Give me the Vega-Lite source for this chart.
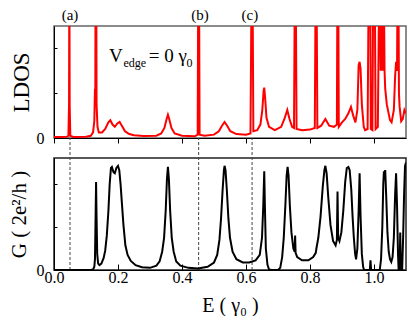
{
  "$schema": "https://vega.github.io/schema/vega-lite/v6.json",
  "background": "white",
  "padding": {"left": 7, "top": 7, "right": 0, "bottom": 0},
  "spacing": 20,
  "bounds": "flush",
  "config": {
    "font": "Liberation Serif",
    "view": {"stroke": "#666", "strokeWidth": 1.5},
    "axis": {"domainColor": "#000", "tickColor": "#000", "labelColor": "#000", "titleColor": "#000", "labelFont": "Liberation Serif", "titleFont": "Liberation Serif", "titleFontWeight": "normal", "grid": false, "domainWidth": 1, "tickWidth": 1}
  },
  "datasets": {
    "ldos": [
      {"E": 0.0, "L": 0.008}, {"E": 0.04, "L": 0.01}, {"E": 0.045, "L": 0.02}, {"E": 0.047, "L": 0.3}, {"E": 0.048, "L": 1.6}, {"E": 0.049, "L": 0.3}, {"E": 0.051, "L": 0.02}, {"E": 0.06, "L": 0.01},
      {"E": 0.1, "L": 0.012}, {"E": 0.115, "L": 0.02}, {"E": 0.122, "L": 0.05}, {"E": 0.126, "L": 0.15}, {"E": 0.128, "L": 0.44}, {"E": 0.129, "L": 0.3}, {"E": 0.130, "L": 1.6}, {"E": 0.132, "L": 1.6}, {"E": 0.133, "L": 0.3}, {"E": 0.136, "L": 0.1},
      {"E": 0.14, "L": 0.05}, {"E": 0.15, "L": 0.05}, {"E": 0.16, "L": 0.08}, {"E": 0.17, "L": 0.14}, {"E": 0.176, "L": 0.158}, {"E": 0.183, "L": 0.12}, {"E": 0.19, "L": 0.1}, {"E": 0.198, "L": 0.13}, {"E": 0.205, "L": 0.143}, {"E": 0.212, "L": 0.11}, {"E": 0.222, "L": 0.06}, {"E": 0.235, "L": 0.035}, {"E": 0.25, "L": 0.025}, {"E": 0.28, "L": 0.018},
      {"E": 0.32, "L": 0.02}, {"E": 0.335, "L": 0.04}, {"E": 0.345, "L": 0.09}, {"E": 0.352, "L": 0.17}, {"E": 0.356, "L": 0.208}, {"E": 0.36, "L": 0.17}, {"E": 0.367, "L": 0.09}, {"E": 0.377, "L": 0.04}, {"E": 0.4, "L": 0.02}, {"E": 0.44, "L": 0.015},
      {"E": 0.449, "L": 0.03}, {"E": 0.451, "L": 1.6}, {"E": 0.453, "L": 1.6}, {"E": 0.455, "L": 0.03}, {"E": 0.47, "L": 0.02}, {"E": 0.5, "L": 0.03}, {"E": 0.515, "L": 0.06}, {"E": 0.525, "L": 0.11}, {"E": 0.533, "L": 0.143}, {"E": 0.541, "L": 0.11}, {"E": 0.551, "L": 0.06}, {"E": 0.57, "L": 0.035}, {"E": 0.6, "L": 0.03},
      {"E": 0.614, "L": 0.04}, {"E": 0.618, "L": 1.6}, {"E": 0.62, "L": 1.6}, {"E": 0.623, "L": 0.06}, {"E": 0.635, "L": 0.07}, {"E": 0.645, "L": 0.12}, {"E": 0.651, "L": 0.25}, {"E": 0.655, "L": 0.42}, {"E": 0.657, "L": 0.45}, {"E": 0.66, "L": 0.35}, {"E": 0.664, "L": 0.18}, {"E": 0.672, "L": 0.1}, {"E": 0.69, "L": 0.07},
      {"E": 0.71, "L": 0.1}, {"E": 0.72, "L": 0.17}, {"E": 0.729, "L": 0.25}, {"E": 0.736, "L": 0.17}, {"E": 0.744, "L": 0.1}, {"E": 0.75, "L": 0.09}, {"E": 0.753, "L": 1.6}, {"E": 0.755, "L": 1.6}, {"E": 0.758, "L": 0.08}, {"E": 0.775, "L": 0.07}, {"E": 0.8, "L": 0.075},
      {"E": 0.815, "L": 0.09}, {"E": 0.818, "L": 1.6}, {"E": 0.82, "L": 1.6}, {"E": 0.823, "L": 0.09}, {"E": 0.835, "L": 0.11}, {"E": 0.848, "L": 0.17}, {"E": 0.86, "L": 0.11}, {"E": 0.875, "L": 0.1},
      {"E": 0.884, "L": 0.12}, {"E": 0.886, "L": 1.6}, {"E": 0.888, "L": 1.6}, {"E": 0.89, "L": 0.1}, {"E": 0.9, "L": 0.14}, {"E": 0.91, "L": 0.17}, {"E": 0.92, "L": 0.22}, {"E": 0.928, "L": 0.277}, {"E": 0.935, "L": 0.2}, {"E": 0.942, "L": 0.14},
      {"E": 0.948, "L": 0.25}, {"E": 0.952, "L": 0.65}, {"E": 0.955, "L": 0.68}, {"E": 0.958, "L": 0.62}, {"E": 0.962, "L": 0.3}, {"E": 0.968, "L": 0.1}, {"E": 0.972, "L": 0.07}, {"E": 0.98, "L": 0.08},
      {"E": 0.984, "L": 1.6}, {"E": 0.988, "L": 1.6}, {"E": 0.99, "L": 0.08}, {"E": 0.995, "L": 0.07}, {"E": 0.998, "L": 1.6}, {"E": 1.002, "L": 1.6}, {"E": 1.005, "L": 0.08}, {"E": 1.012, "L": 0.1},
      {"E": 1.017, "L": 1.6}, {"E": 1.021, "L": 0.6}, {"E": 1.024, "L": 1.6}, {"E": 1.027, "L": 0.6}, {"E": 1.030, "L": 1.6}, {"E": 1.033, "L": 0.6}, {"E": 1.035, "L": 0.44}, {"E": 1.04, "L": 0.3}, {"E": 1.05, "L": 0.16}, {"E": 1.055, "L": 0.14},
      {"E": 1.062, "L": 0.25}, {"E": 1.066, "L": 0.55}, {"E": 1.069, "L": 0.68}, {"E": 1.072, "L": 0.6}, {"E": 1.074, "L": 1.6}, {"E": 1.076, "L": 1.6}, {"E": 1.078, "L": 0.4}, {"E": 1.08, "L": 0.28}, {"E": 1.085, "L": 0.15}, {"E": 1.09, "L": 0.17}, {"E": 1.095, "L": 0.25}, {"E": 1.1, "L": 0.22}
    ],
    "cond": [
      {"E": 0.0, "G": 0}, {"E": 0.115, "G": 0}, {"E": 0.122, "G": 0.005}, {"E": 0.126, "G": 0.03}, {"E": 0.128, "G": 0.1}, {"E": 0.13, "G": 0.5}, {"E": 0.1315, "G": 0.82}, {"E": 0.133, "G": 0.5}, {"E": 0.135, "G": 0.15}, {"E": 0.138, "G": 0.06}, {"E": 0.142, "G": 0.045},
      {"E": 0.148, "G": 0.06}, {"E": 0.155, "G": 0.11}, {"E": 0.16, "G": 0.18}, {"E": 0.165, "G": 0.32}, {"E": 0.17, "G": 0.55}, {"E": 0.174, "G": 0.8}, {"E": 0.178, "G": 0.95}, {"E": 0.181, "G": 0.96}, {"E": 0.186, "G": 0.91}, {"E": 0.19, "G": 0.9}, {"E": 0.195, "G": 0.95}, {"E": 0.2, "G": 0.97}, {"E": 0.204, "G": 0.93}, {"E": 0.208, "G": 0.8}, {"E": 0.212, "G": 0.63}, {"E": 0.217, "G": 0.42}, {"E": 0.223, "G": 0.23}, {"E": 0.23, "G": 0.14}, {"E": 0.24, "G": 0.085}, {"E": 0.255, "G": 0.045}, {"E": 0.275, "G": 0.025}, {"E": 0.3, "G": 0.02},
      {"E": 0.32, "G": 0.04}, {"E": 0.33, "G": 0.08}, {"E": 0.338, "G": 0.17}, {"E": 0.344, "G": 0.3}, {"E": 0.349, "G": 0.55}, {"E": 0.353, "G": 0.85}, {"E": 0.356, "G": 0.96}, {"E": 0.359, "G": 0.85}, {"E": 0.363, "G": 0.55}, {"E": 0.368, "G": 0.3}, {"E": 0.374, "G": 0.17}, {"E": 0.382, "G": 0.08}, {"E": 0.395, "G": 0.04}, {"E": 0.42, "G": 0.02}, {"E": 0.45, "G": 0.015},
      {"E": 0.48, "G": 0.03}, {"E": 0.5, "G": 0.07}, {"E": 0.51, "G": 0.14}, {"E": 0.517, "G": 0.28}, {"E": 0.522, "G": 0.48}, {"E": 0.527, "G": 0.75}, {"E": 0.531, "G": 0.93}, {"E": 0.533, "G": 0.97}, {"E": 0.536, "G": 0.93}, {"E": 0.54, "G": 0.75}, {"E": 0.545, "G": 0.48}, {"E": 0.55, "G": 0.3}, {"E": 0.558, "G": 0.17}, {"E": 0.57, "G": 0.1}, {"E": 0.59, "G": 0.07}, {"E": 0.61, "G": 0.07}, {"E": 0.63, "G": 0.09},
      {"E": 0.643, "G": 0.14}, {"E": 0.65, "G": 0.3}, {"E": 0.654, "G": 0.6}, {"E": 0.657, "G": 0.92}, {"E": 0.659, "G": 0.6}, {"E": 0.662, "G": 0.2}, {"E": 0.667, "G": 0.05}, {"E": 0.672, "G": 0.005}, {"E": 0.68, "G": 0}, {"E": 0.7, "G": 0},
      {"E": 0.707, "G": 0.02}, {"E": 0.713, "G": 0.12}, {"E": 0.718, "G": 0.3}, {"E": 0.723, "G": 0.6}, {"E": 0.727, "G": 0.88}, {"E": 0.73, "G": 0.96}, {"E": 0.733, "G": 0.88}, {"E": 0.737, "G": 0.6}, {"E": 0.742, "G": 0.35}, {"E": 0.748, "G": 0.2}, {"E": 0.752, "G": 0.17}, {"E": 0.7535, "G": 0.32}, {"E": 0.755, "G": 0.16}, {"E": 0.76, "G": 0.12}, {"E": 0.775, "G": 0.09}, {"E": 0.795, "G": 0.09},
      {"E": 0.81, "G": 0.12}, {"E": 0.818, "G": 0.16}, {"E": 0.82, "G": 0.2}, {"E": 0.826, "G": 0.3}, {"E": 0.833, "G": 0.5}, {"E": 0.84, "G": 0.78}, {"E": 0.845, "G": 0.93}, {"E": 0.848, "G": 0.97}, {"E": 0.852, "G": 0.9}, {"E": 0.857, "G": 0.68}, {"E": 0.864, "G": 0.42}, {"E": 0.872, "G": 0.27}, {"E": 0.88, "G": 0.23},
      {"E": 0.884, "G": 0.28}, {"E": 0.886, "G": 0.73}, {"E": 0.888, "G": 0.3}, {"E": 0.892, "G": 0.27}, {"E": 0.898, "G": 0.35}, {"E": 0.904, "G": 0.55}, {"E": 0.91, "G": 0.82}, {"E": 0.915, "G": 0.95}, {"E": 0.92, "G": 0.96}, {"E": 0.924, "G": 0.93}, {"E": 0.929, "G": 0.75}, {"E": 0.933, "G": 0.5}, {"E": 0.937, "G": 0.3}, {"E": 0.941, "G": 0.15}, {"E": 0.944, "G": 0.1},
      {"E": 0.948, "G": 0.2}, {"E": 0.952, "G": 0.55}, {"E": 0.955, "G": 0.9}, {"E": 0.958, "G": 0.5}, {"E": 0.962, "G": 0.15}, {"E": 0.966, "G": 0.03}, {"E": 0.969, "G": 0}, {"E": 0.987, "G": 0}, {"E": 0.989, "G": 0.09}, {"E": 0.991, "G": 0}, {"E": 1.018, "G": 0},
      {"E": 1.022, "G": 0.1}, {"E": 1.026, "G": 0.4}, {"E": 1.029, "G": 0.8}, {"E": 1.031, "G": 0.92}, {"E": 1.033, "G": 0.9}, {"E": 1.035, "G": 0.93}, {"E": 1.038, "G": 0.7}, {"E": 1.042, "G": 0.35}, {"E": 1.046, "G": 0.17}, {"E": 1.05, "G": 0.1}, {"E": 1.054, "G": 0.075},
      {"E": 1.058, "G": 0.12}, {"E": 1.062, "G": 0.3}, {"E": 1.066, "G": 0.7}, {"E": 1.069, "G": 0.9}, {"E": 1.072, "G": 0.6}, {"E": 1.075, "G": 0.15}, {"E": 1.077, "G": 0}, {"E": 1.08, "G": 0}, {"E": 1.082, "G": 0.35}, {"E": 1.084, "G": 0}, {"E": 1.088, "G": 0},
      {"E": 1.091, "G": 0.3}, {"E": 1.094, "G": 0.7}, {"E": 1.097, "G": 0.97}, {"E": 1.1, "G": 1.0}
    ],
    "cuts": [{"E": 0.05, "lab": "(a)", "lx": 0.05}, {"E": 0.452, "lab": "(b)", "lx": 0.456}, {"E": 0.619, "lab": "(c)", "lx": 0.612}]
  },
  "vconcat": [
    {
      "width": 352,
      "height": 112,
      "layer": [
        {
          "data": {"name": "ldos"},
          "mark": {"type": "line", "color": "#ff0000", "strokeWidth": 2, "clip": true},
          "encoding": {
            "x": {"field": "E", "type": "quantitative", "scale": {"domain": [0, 1.1], "nice": false, "zero": false},
              "axis": {"title": null, "labels": false, "values": [0, 0.05, 0.1, 0.15, 0.2, 0.25, 0.3, 0.35, 0.4, 0.45, 0.5, 0.55, 0.6, 0.65, 0.7, 0.75, 0.8, 0.85, 0.9, 0.95, 1.0, 1.05, 1.1],
                "tickSize": {"condition": {"test": "abs(datum.value*5 - round(datum.value*5)) < 0.001", "value": 5}, "value": -3}}},
            "y": {"field": "L", "type": "quantitative", "scale": {"domain": [0, 1], "nice": false},
              "axis": {"title": "LDOS", "titleFontSize": 23, "titlePadding": 3, "values": [0, 0.2, 0.4, 0.6, 0.8, 1], "labelExpr": "datum.value == 0 ? '0' : (datum.value == 1 ? '1' : '')", "labelFontSize": 16, "tickSize": -3, "labelPadding": 13}}
          }
        },
        {
          "data": {"name": "cuts"},
          "mark": {"type": "text", "fontSize": 15, "baseline": "alphabetic", "align": "center", "color": "#000"},
          "encoding": {
            "x": {"field": "lx", "type": "quantitative"},
            "y": {"datum": 1.054},
            "text": {"field": "lab"}
          }
        },
        {
          "data": {"values": [{"t": "V", "x": 0.172, "y": 0.675}, {"t": "= 0 γ", "x": 0.296, "y": 0.675}]},
          "mark": {"type": "text", "fontSize": 19, "baseline": "alphabetic", "align": "left", "color": "#000"},
          "encoding": {"x": {"field": "x", "type": "quantitative"}, "y": {"field": "y", "type": "quantitative"}, "text": {"field": "t"}}
        },
        {
          "data": {"values": [{"t": "edge", "x": 0.217, "y": 0.634}, {"t": "0", "x": 0.414, "y": 0.634}]},
          "mark": {"type": "text", "fontSize": 12, "baseline": "alphabetic", "align": "left", "color": "#000"},
          "encoding": {"x": {"field": "x", "type": "quantitative"}, "y": {"field": "y", "type": "quantitative"}, "text": {"field": "t"}}
        }
      ]
    },
    {
      "width": 352,
      "height": 112,
      "view": {"stroke": "#222"},
      "layer": [
        {
          "data": {"name": "cuts"},
          "mark": {"type": "rule", "color": "#444", "strokeWidth": 1, "strokeDash": [3, 2]},
          "encoding": {
            "x": {"field": "E", "type": "quantitative"},
            "y": {"datum": 0},
            "y2": {"datum": 1.229}
          }
        },
        {
          "data": {"name": "cond"},
          "mark": {"type": "line", "color": "#000", "strokeWidth": 2, "clip": true},
          "encoding": {
            "x": {"field": "E", "type": "quantitative", "scale": {"domain": [0, 1.1], "nice": false, "zero": false},
              "axis": {"title": "E ( γ₀ )", "titleFontSize": 20, "titlePadding": 10, "values": [0, 0.05, 0.1, 0.15, 0.2, 0.25, 0.3, 0.35, 0.4, 0.45, 0.5, 0.55, 0.6, 0.65, 0.7, 0.75, 0.8, 0.85, 0.9, 0.95, 1.0, 1.05, 1.1],
                "labelExpr": "abs(datum.value*5 - round(datum.value*5)) < 0.001 && datum.value < 1.01 ? format(datum.value, '.1f') : ''",
                "labelFontSize": 16, "labelPadding": 5, "labelFlush": false,
                "tickSize": {"condition": {"test": "abs(datum.value*5 - round(datum.value*5)) < 0.001", "value": -6}, "value": -3}}},
            "y": {"field": "G", "type": "quantitative", "scale": {"domain": [0, 1.043], "nice": false},
              "axis": {"title": "G ( 2e²/h )", "titleFontSize": 21, "titlePadding": 7, "values": [0, 0.2, 0.4, 0.6, 0.8, 1], "labelExpr": "datum.value == 0 ? '0' : (datum.value == 1 ? '1' : '')", "labelFontSize": 16, "tickSize": -3, "labelPadding": 13}}
          }
        }
      ]
    }
  ]
}
